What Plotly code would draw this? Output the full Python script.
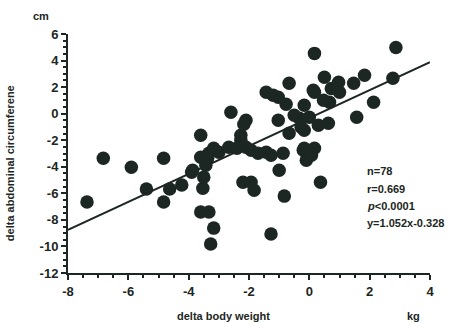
import plotly.graph_objects as go

# delta body weight (kg)
x_vals = [-7.37, -6.83, -5.9, -5.4, -4.83, -4.83, -4.63, -4.23, -3.9, -3.6,
          -3.33, -3.17, -3.27, -3.53, -3.5, -3.6, -3.87, -3.6, -3.37, -3.33,
          -3.0, -2.67, -2.27, -2.17, -2.1, -1.7, -1.43, -1.27, -0.87, -2.2,
          -1.93, -1.83, -2.6, -2.1, -1.43, -1.03, -0.67, -0.77, -0.17, 0.17,
          0.0, -0.17, -0.67, -1.03, -1.0, -0.83, -1.27, -0.2, 0.17, -0.1,
          0.37, 0.17, 2.87, 0.5, 0.97, 1.47, 1.83, 2.77, 1.0, 0.67,
          2.13, 1.57, 0.63, -0.33, 0.47, 0.13, -3.17, -2.4, -1.2, -0.27,
          0.3, -3.43, -0.17, -2.27, -0.5, 0.73, -1.93, 0.07]
# delta abdominal circumference (cm)
y_vals = [-6.66, -3.35, -4.03, -5.68, -3.35, -6.66, -5.68, -5.38, -4.41, -7.41,
          -7.41, -8.62, -9.82, -5.61, -4.78, -1.62, -4.26, -3.28, -3.35, -2.98,
          -2.9, -2.53, -1.62, -0.8, -2.53, -2.98, -2.9, -3.13, -2.98, -5.16,
          -5.16, -5.76, 0.11, -0.5, 1.61, 1.23, 2.29, 0.71, 0.63, 1.61,
          -0.27, -1.25, -1.47, -0.5, -4.26, -6.21, -9.07, -2.75, -2.6, -3.5,
          -5.16, 4.54, 4.99, 2.74, 2.36, 2.29, 2.89, 2.66, 1.61, 0.86,
          0.86, -0.27, -0.72, -0.35, 1.01, 1.76, -2.6, -2.6, 1.38, -1.02,
          -0.87, -3.88, -2.6, -2.0, -0.12, 1.9, -2.75, -3.13]

slope = 1.052
intercept = -0.328
line_x = [-8, 4]
line_y = [slope * v + intercept for v in line_x]

x_ticks = [-8, -6, -4, -2, 0, 2, 4]
y_ticks = [-12, -10, -8, -6, -4, -2, 0, 2, 4, 6]
stats_lines = ["n=78", "r=0.669", "<i>p</i>&lt;0.0001", "y=1.052x-0.328"]

ink = "#1c2622"
font_family = "Liberation Sans, Arial, sans-serif"

fig = go.Figure()
fig.add_trace(go.Scatter(x=line_x, y=line_y, mode="lines",
                         line=dict(color=ink, width=2), hoverinfo="skip"))
fig.add_trace(go.Scatter(x=x_vals, y=y_vals, mode="markers",
                         marker=dict(size=13.5, color=ink, line=dict(width=0)),
                         cliponaxis=False))

axis_common = dict(showgrid=False, zeroline=False, showline=True,
                   linecolor=ink, linewidth=2, ticks="outside",
                   tickcolor=ink, tickwidth=2, ticklen=5,
                   tickfont=dict(family=font_family, size=13, color=ink))

fig.update_xaxes(range=[-8, 4], tickvals=x_ticks,
                 ticktext=[f"<b>{t}</b>" for t in x_ticks],
                 minor=dict(dtick=0.5, tick0=0, ticks="outside", ticklen=3,
                            tickcolor=ink, tickwidth=1.5),
                 **axis_common)
fig.update_yaxes(range=[-12, 6], tickvals=y_ticks,
                 ticktext=[f"<b>{t}</b>" for t in y_ticks],
                 minor=dict(dtick=0.5, tick0=0, ticks="outside", ticklen=3,
                            tickcolor=ink, tickwidth=1.5),
                 **axis_common)

annotations = [
    dict(text="<b>delta body weight</b>", xref="paper", yref="paper",
         x=0.43, y=-0.145, xanchor="center", yanchor="top", showarrow=False,
         font=dict(family=font_family, size=11, color=ink)),
    dict(text="<b>kg</b>", xref="paper", yref="paper",
         x=0.955, y=-0.145, xanchor="center", yanchor="top", showarrow=False,
         font=dict(family=font_family, size=11, color=ink)),
    dict(text="<b>cm</b>", xref="paper", yref="paper",
         x=-0.075, y=1.04, xanchor="center", yanchor="bottom", showarrow=False,
         font=dict(family=font_family, size=11, color=ink)),
    dict(text="<b>delta abdominal circumferene</b>", xref="paper", yref="paper",
         x=-0.16, y=0.46, xanchor="center", yanchor="middle", textangle=-90,
         showarrow=False, font=dict(family=font_family, size=11, color=ink)),
]
for i, s in enumerate(stats_lines):
    annotations.append(dict(text=f"<b>{s}</b>", xref="paper", yref="paper",
                            x=0.82, y=0.425 - i * 0.072, xanchor="left",
                            yanchor="middle", showarrow=False,
                            font=dict(family=font_family, size=11, color=ink)))

fig.update_layout(width=461, height=323, showlegend=False,
                  margin=dict(l=68, r=31, t=34, b=50),
                  paper_bgcolor="white", plot_bgcolor="white",
                  annotations=annotations)

fig.write_html("out.html")
